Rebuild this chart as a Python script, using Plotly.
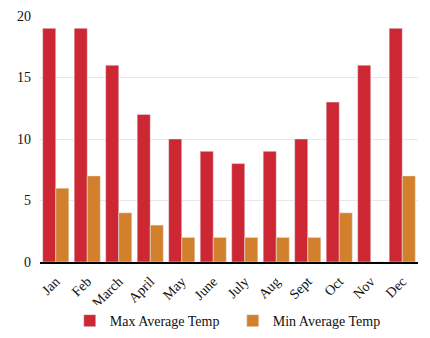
import plotly.graph_objects as go

months = ["Jan", "Feb", "March", "April", "May", "June", "July", "Aug", "Sept", "Oct", "Nov", "Dec"]
max_temp = [19, 19, 16, 12, 10, 9, 8, 9, 10, 13, 16, 19]
min_temp = [6, 7, 4, 3, 2, 2, 2, 2, 2, 4, 0, 7]

fig = go.Figure()
fig.add_trace(go.Bar(x=months, y=max_temp, name="Max Average Temp", marker_color="#cc2733"))
fig.add_trace(go.Bar(x=months, y=min_temp, name="Min Average Temp", marker_color="#d2802c"))

serif = "Liberation Serif, Times New Roman, Times, serif"

fig.update_layout(
    width=430, height=338,
    margin=dict(l=40, r=12, t=16, b=76, autoexpand=False),
    barmode="group", bargap=0.17, bargroupgap=0,
    plot_bgcolor="white", paper_bgcolor="white",
    font=dict(family=serif, size=14, color="#111"),
    showlegend=True,
    legend=dict(orientation="h", x=0.51, xanchor="center", y=-0.24, yanchor="middle",
                font=dict(family=serif, size=14), itemwidth=30,
                entrywidth=118, entrywidthmode="pixels"),
    xaxis=dict(tickangle=-45, showline=True, linecolor="black", linewidth=1.5,
               ticks="", showgrid=False, automargin=False, ticklabelstandoff=4),
    yaxis=dict(range=[0, 20], tickvals=[0, 5, 10, 15, 20], showgrid=True,
               gridcolor="#e8e8e8", zeroline=False, ticks="", showline=False,
               automargin=False, ticklabelstandoff=8),
)

fig.write_html("out.html")
